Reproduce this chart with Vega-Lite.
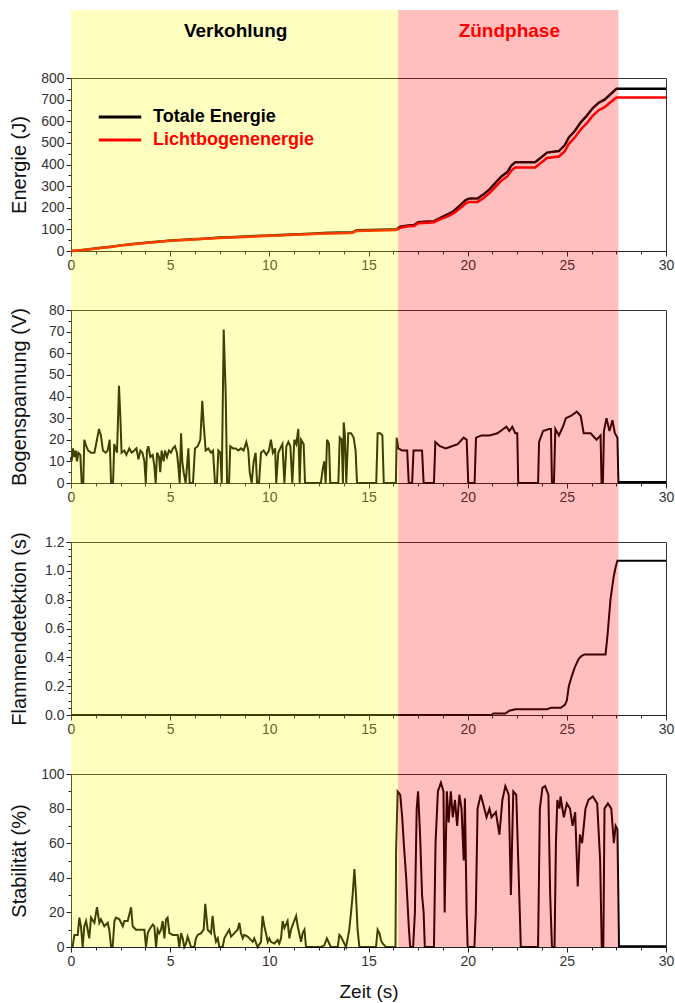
{
  "$schema": "https://vega.github.io/schema/vega-lite/v6.json",
  "background": "white",
  "padding": {"left": 8, "top": 9, "right": 4, "bottom": 2},
  "spacing": 59,
  "bounds": "flush",
  "config": {
    "font": "Liberation Sans",
    "view": {"stroke": "#333", "strokeWidth": 1},
    "axis": {"labelFont": "Liberation Sans", "labelFontSize": 14, "labelColor": "#333", "titleFont": "Liberation Sans", "titleFontSize": 20, "titleFontWeight": "normal", "titleColor": "#111", "domainColor": "#222", "tickColor": "#222", "grid": false, "labelPadding": 2, "tickSize": 5, "labelOverlap": false, "labelFlush": false}
  },
  "datasets": {
    "phases": [
      {"phase": "Verkohlung", "start": 0, "end": 16.5},
      {"phase": "Zündphase", "start": 16.5, "end": 27.6}
    ],
    "energie": [
      {"t":0,"Serie":"Totale Energie","E":0},{"t":0.5,"Serie":"Totale Energie","E":4},{"t":1,"Serie":"Totale Energie","E":9},{"t":1.5,"Serie":"Totale Energie","E":15},{"t":2,"Serie":"Totale Energie","E":20},{"t":2.5,"Serie":"Totale Energie","E":26},{"t":3,"Serie":"Totale Energie","E":31},{"t":3.5,"Serie":"Totale Energie","E":36},{"t":4,"Serie":"Totale Energie","E":40},{"t":4.5,"Serie":"Totale Energie","E":44},{"t":5,"Serie":"Totale Energie","E":48},{"t":5.5,"Serie":"Totale Energie","E":51},{"t":6,"Serie":"Totale Energie","E":54},{"t":6.5,"Serie":"Totale Energie","E":56},{"t":7,"Serie":"Totale Energie","E":59},{"t":7.5,"Serie":"Totale Energie","E":62},{"t":8,"Serie":"Totale Energie","E":64},{"t":8.5,"Serie":"Totale Energie","E":66},{"t":9,"Serie":"Totale Energie","E":68},{"t":9.5,"Serie":"Totale Energie","E":70},{"t":10,"Serie":"Totale Energie","E":72},{"t":10.5,"Serie":"Totale Energie","E":74},{"t":11,"Serie":"Totale Energie","E":76},{"t":11.5,"Serie":"Totale Energie","E":78},{"t":12,"Serie":"Totale Energie","E":80},{"t":12.5,"Serie":"Totale Energie","E":82},{"t":13,"Serie":"Totale Energie","E":84},{"t":13.5,"Serie":"Totale Energie","E":85},{"t":14,"Serie":"Totale Energie","E":86},{"t":14.2,"Serie":"Totale Energie","E":87},{"t":14.4,"Serie":"Totale Energie","E":96},{"t":15,"Serie":"Totale Energie","E":97},{"t":15.5,"Serie":"Totale Energie","E":98},{"t":16,"Serie":"Totale Energie","E":99},{"t":16.4,"Serie":"Totale Energie","E":100},{"t":16.6,"Serie":"Totale Energie","E":112},{"t":17,"Serie":"Totale Energie","E":118},{"t":17.3,"Serie":"Totale Energie","E":120},{"t":17.5,"Serie":"Totale Energie","E":133},{"t":18,"Serie":"Totale Energie","E":136},{"t":18.3,"Serie":"Totale Energie","E":138},{"t":18.6,"Serie":"Totale Energie","E":152},{"t":19,"Serie":"Totale Energie","E":170},{"t":19.3,"Serie":"Totale Energie","E":185},{"t":19.6,"Serie":"Totale Energie","E":210},{"t":19.9,"Serie":"Totale Energie","E":235},{"t":20.1,"Serie":"Totale Energie","E":243},{"t":20.5,"Serie":"Totale Energie","E":243},{"t":20.8,"Serie":"Totale Energie","E":262},{"t":21.1,"Serie":"Totale Energie","E":285},{"t":21.4,"Serie":"Totale Energie","E":315},{"t":21.7,"Serie":"Totale Energie","E":345},{"t":22,"Serie":"Totale Energie","E":365},{"t":22.2,"Serie":"Totale Energie","E":395},{"t":22.4,"Serie":"Totale Energie","E":410},{"t":23.4,"Serie":"Totale Energie","E":410},{"t":23.7,"Serie":"Totale Energie","E":432},{"t":24,"Serie":"Totale Energie","E":455},{"t":24.6,"Serie":"Totale Energie","E":462},{"t":24.9,"Serie":"Totale Energie","E":490},{"t":25.1,"Serie":"Totale Energie","E":525},{"t":25.4,"Serie":"Totale Energie","E":555},{"t":25.7,"Serie":"Totale Energie","E":595},{"t":26,"Serie":"Totale Energie","E":625},{"t":26.3,"Serie":"Totale Energie","E":660},{"t":26.6,"Serie":"Totale Energie","E":685},{"t":26.9,"Serie":"Totale Energie","E":700},{"t":27.2,"Serie":"Totale Energie","E":725},{"t":27.5,"Serie":"Totale Energie","E":750},{"t":30,"Serie":"Totale Energie","E":750},
      {"t":0,"Serie":"Lichtbogenenergie","E":0},{"t":0.5,"Serie":"Lichtbogenenergie","E":3},{"t":1,"Serie":"Lichtbogenenergie","E":8},{"t":1.5,"Serie":"Lichtbogenenergie","E":14},{"t":2,"Serie":"Lichtbogenenergie","E":19},{"t":2.5,"Serie":"Lichtbogenenergie","E":25},{"t":3,"Serie":"Lichtbogenenergie","E":30},{"t":3.5,"Serie":"Lichtbogenenergie","E":35},{"t":4,"Serie":"Lichtbogenenergie","E":39},{"t":4.5,"Serie":"Lichtbogenenergie","E":43},{"t":5,"Serie":"Lichtbogenenergie","E":47},{"t":5.5,"Serie":"Lichtbogenenergie","E":50},{"t":6,"Serie":"Lichtbogenenergie","E":52},{"t":6.5,"Serie":"Lichtbogenenergie","E":55},{"t":7,"Serie":"Lichtbogenenergie","E":58},{"t":7.5,"Serie":"Lichtbogenenergie","E":60},{"t":8,"Serie":"Lichtbogenenergie","E":62},{"t":8.5,"Serie":"Lichtbogenenergie","E":64},{"t":9,"Serie":"Lichtbogenenergie","E":66},{"t":9.5,"Serie":"Lichtbogenenergie","E":68},{"t":10,"Serie":"Lichtbogenenergie","E":70},{"t":10.5,"Serie":"Lichtbogenenergie","E":72},{"t":11,"Serie":"Lichtbogenenergie","E":74},{"t":11.5,"Serie":"Lichtbogenenergie","E":76},{"t":12,"Serie":"Lichtbogenenergie","E":78},{"t":12.5,"Serie":"Lichtbogenenergie","E":80},{"t":13,"Serie":"Lichtbogenenergie","E":81},{"t":13.5,"Serie":"Lichtbogenenergie","E":82},{"t":14,"Serie":"Lichtbogenenergie","E":83},{"t":14.2,"Serie":"Lichtbogenenergie","E":84},{"t":14.4,"Serie":"Lichtbogenenergie","E":93},{"t":15,"Serie":"Lichtbogenenergie","E":94},{"t":15.5,"Serie":"Lichtbogenenergie","E":95},{"t":16,"Serie":"Lichtbogenenergie","E":96},{"t":16.4,"Serie":"Lichtbogenenergie","E":97},{"t":16.6,"Serie":"Lichtbogenenergie","E":108},{"t":17,"Serie":"Lichtbogenenergie","E":114},{"t":17.3,"Serie":"Lichtbogenenergie","E":116},{"t":17.5,"Serie":"Lichtbogenenergie","E":128},{"t":18,"Serie":"Lichtbogenenergie","E":131},{"t":18.3,"Serie":"Lichtbogenenergie","E":133},{"t":18.6,"Serie":"Lichtbogenenergie","E":146},{"t":19,"Serie":"Lichtbogenenergie","E":160},{"t":19.3,"Serie":"Lichtbogenenergie","E":175},{"t":19.6,"Serie":"Lichtbogenenergie","E":197},{"t":19.9,"Serie":"Lichtbogenenergie","E":220},{"t":20.1,"Serie":"Lichtbogenenergie","E":227},{"t":20.5,"Serie":"Lichtbogenenergie","E":227},{"t":20.8,"Serie":"Lichtbogenenergie","E":245},{"t":21.1,"Serie":"Lichtbogenenergie","E":268},{"t":21.4,"Serie":"Lichtbogenenergie","E":297},{"t":21.7,"Serie":"Lichtbogenenergie","E":325},{"t":22,"Serie":"Lichtbogenenergie","E":345},{"t":22.2,"Serie":"Lichtbogenenergie","E":372},{"t":22.4,"Serie":"Lichtbogenenergie","E":386},{"t":23.4,"Serie":"Lichtbogenenergie","E":386},{"t":23.7,"Serie":"Lichtbogenenergie","E":408},{"t":24,"Serie":"Lichtbogenenergie","E":430},{"t":24.6,"Serie":"Lichtbogenenergie","E":437},{"t":24.9,"Serie":"Lichtbogenenergie","E":462},{"t":25.1,"Serie":"Lichtbogenenergie","E":495},{"t":25.4,"Serie":"Lichtbogenenergie","E":525},{"t":25.7,"Serie":"Lichtbogenenergie","E":562},{"t":26,"Serie":"Lichtbogenenergie","E":590},{"t":26.3,"Serie":"Lichtbogenenergie","E":625},{"t":26.6,"Serie":"Lichtbogenenergie","E":650},{"t":26.9,"Serie":"Lichtbogenenergie","E":665},{"t":27.2,"Serie":"Lichtbogenenergie","E":688},{"t":27.5,"Serie":"Lichtbogenenergie","E":710},{"t":30,"Serie":"Lichtbogenenergie","E":710}
    ],
    "spannung": [
      {"t":0,"U":12},{"t":0.03,"U":10},{"t":0.1,"U":16},{"t":0.17,"U":12},{"t":0.24,"U":15},{"t":0.3,"U":10},{"t":0.37,"U":14},{"t":0.47,"U":13},{"t":0.54,"U":0},{"t":0.62,"U":0},{"t":0.67,"U":20},{"t":0.77,"U":17},{"t":0.87,"U":15},{"t":1.01,"U":14},{"t":1.18,"U":14},{"t":1.31,"U":20},{"t":1.41,"U":25},{"t":1.51,"U":22},{"t":1.61,"U":15},{"t":1.75,"U":14},{"t":1.85,"U":15},{"t":1.95,"U":20},{"t":2.02,"U":0},{"t":2.12,"U":0},{"t":2.18,"U":18},{"t":2.32,"U":14},{"t":2.42,"U":45},{"t":2.49,"U":30},{"t":2.55,"U":14},{"t":2.69,"U":15},{"t":2.79,"U":13},{"t":2.94,"U":16},{"t":3.06,"U":14},{"t":3.19,"U":15},{"t":3.3,"U":16},{"t":3.4,"U":11},{"t":3.5,"U":15},{"t":3.6,"U":14},{"t":3.7,"U":10},{"t":3.77,"U":0},{"t":3.83,"U":15},{"t":3.9,"U":17},{"t":4.0,"U":12},{"t":4.12,"U":13},{"t":4.2,"U":8},{"t":4.27,"U":0},{"t":4.34,"U":14},{"t":4.44,"U":12},{"t":4.5,"U":5},{"t":4.57,"U":15},{"t":4.67,"U":10},{"t":4.74,"U":15},{"t":4.84,"U":12},{"t":4.94,"U":15},{"t":5.04,"U":14},{"t":5.14,"U":16},{"t":5.24,"U":17},{"t":5.34,"U":14},{"t":5.41,"U":8},{"t":5.48,"U":0},{"t":5.55,"U":23},{"t":5.61,"U":10},{"t":5.68,"U":5},{"t":5.78,"U":0},{"t":5.92,"U":16},{"t":5.98,"U":0},{"t":6.15,"U":0},{"t":6.25,"U":16},{"t":6.39,"U":17},{"t":6.52,"U":20},{"t":6.62,"U":38},{"t":6.69,"U":27},{"t":6.79,"U":15},{"t":6.92,"U":16},{"t":7.06,"U":14},{"t":7.16,"U":15},{"t":7.26,"U":0},{"t":7.36,"U":0},{"t":7.43,"U":15},{"t":7.53,"U":14},{"t":7.6,"U":0},{"t":7.7,"U":71},{"t":7.8,"U":41},{"t":7.87,"U":0},{"t":7.97,"U":0},{"t":8.03,"U":17},{"t":8.17,"U":16},{"t":8.3,"U":16},{"t":8.44,"U":15},{"t":8.57,"U":16},{"t":8.7,"U":15},{"t":8.84,"U":19},{"t":8.94,"U":15},{"t":9.01,"U":5},{"t":9.11,"U":0},{"t":9.21,"U":10},{"t":9.31,"U":14},{"t":9.38,"U":0},{"t":9.48,"U":0},{"t":9.58,"U":14},{"t":9.71,"U":15},{"t":9.85,"U":13},{"t":9.98,"U":15},{"t":10.08,"U":20},{"t":10.18,"U":14},{"t":10.29,"U":16},{"t":10.35,"U":0},{"t":10.45,"U":14},{"t":10.55,"U":16},{"t":10.66,"U":18},{"t":10.76,"U":0},{"t":10.86,"U":17},{"t":10.96,"U":19},{"t":11.06,"U":17},{"t":11.16,"U":0},{"t":11.26,"U":20},{"t":11.36,"U":18},{"t":11.46,"U":25},{"t":11.53,"U":0},{"t":11.6,"U":20},{"t":11.73,"U":18},{"t":11.8,"U":0},{"t":12.6,"U":0},{"t":12.7,"U":7},{"t":12.77,"U":10},{"t":12.84,"U":0},{"t":12.91,"U":20},{"t":13.01,"U":18},{"t":13.07,"U":0},{"t":13.48,"U":0},{"t":13.55,"U":21},{"t":13.65,"U":20},{"t":13.71,"U":0},{"t":13.75,"U":28},{"t":13.81,"U":22},{"t":13.88,"U":0},{"t":13.98,"U":23},{"t":14.12,"U":23},{"t":14.25,"U":21},{"t":14.35,"U":15},{"t":14.42,"U":0},{"t":15.39,"U":0},{"t":15.46,"U":23},{"t":15.59,"U":23},{"t":15.7,"U":22},{"t":15.77,"U":0},{"t":16.38,"U":0},{"t":16.42,"U":21},{"t":16.5,"U":16},{"t":16.7,"U":15},{"t":16.95,"U":15},{"t":17.03,"U":0},{"t":17.2,"U":0},{"t":17.27,"U":15},{"t":17.7,"U":15},{"t":17.78,"U":0},{"t":18.3,"U":0},{"t":18.37,"U":19},{"t":18.6,"U":17},{"t":18.9,"U":16},{"t":19.2,"U":17},{"t":19.5,"U":18},{"t":19.8,"U":21},{"t":19.95,"U":20},{"t":20.03,"U":0},{"t":20.35,"U":0},{"t":20.42,"U":21},{"t":20.7,"U":22},{"t":21.1,"U":22},{"t":21.5,"U":23},{"t":21.8,"U":25},{"t":21.95,"U":26},{"t":22.1,"U":24},{"t":22.25,"U":26},{"t":22.4,"U":23},{"t":22.5,"U":23},{"t":22.55,"U":0},{"t":23.55,"U":0},{"t":23.6,"U":19},{"t":23.8,"U":24},{"t":24.1,"U":25},{"t":24.2,"U":25},{"t":24.25,"U":0},{"t":24.35,"U":0},{"t":24.42,"U":25},{"t":24.6,"U":22},{"t":24.8,"U":26},{"t":24.95,"U":30},{"t":25.2,"U":31},{"t":25.5,"U":33},{"t":25.7,"U":31},{"t":25.85,"U":23},{"t":26.2,"U":23},{"t":26.5,"U":20},{"t":26.7,"U":22},{"t":26.75,"U":0},{"t":26.82,"U":0},{"t":26.87,"U":24},{"t":27.0,"U":30},{"t":27.15,"U":24},{"t":27.3,"U":29},{"t":27.42,"U":23},{"t":27.55,"U":21},{"t":27.6,"U":0.5},{"t":30,"U":0.5}
    ],
    "flamme": [
      {"t":0,"F":0},{"t":21.2,"F":0},{"t":21.3,"F":0.01},{"t":21.9,"F":0.01},{"t":22.1,"F":0.03},{"t":22.4,"F":0.04},{"t":24.0,"F":0.04},{"t":24.2,"F":0.05},{"t":24.7,"F":0.05},{"t":24.9,"F":0.07},{"t":25.0,"F":0.1},{"t":25.1,"F":0.2},{"t":25.25,"F":0.27},{"t":25.4,"F":0.33},{"t":25.6,"F":0.39},{"t":25.75,"F":0.41},{"t":25.9,"F":0.42},{"t":26.95,"F":0.42},{"t":27.05,"F":0.55},{"t":27.2,"F":0.8},{"t":27.35,"F":0.95},{"t":27.45,"F":1.02},{"t":27.55,"F":1.07},{"t":30,"F":1.07}
    ],
    "stabil": [
      {"t":0,"S":0},{"t":0.08,"S":0},{"t":0.17,"S":7},{"t":0.34,"S":7},{"t":0.42,"S":17},{"t":0.5,"S":12},{"t":0.59,"S":0},{"t":0.67,"S":12},{"t":0.76,"S":15},{"t":0.84,"S":10},{"t":0.92,"S":5},{"t":1.01,"S":17},{"t":1.18,"S":14},{"t":1.31,"S":23},{"t":1.43,"S":14},{"t":1.51,"S":16},{"t":1.68,"S":12},{"t":1.85,"S":14},{"t":1.93,"S":10},{"t":2.02,"S":0},{"t":2.1,"S":0},{"t":2.19,"S":15},{"t":2.27,"S":17},{"t":2.44,"S":16},{"t":2.61,"S":12},{"t":2.69,"S":15},{"t":2.86,"S":15},{"t":3.03,"S":23},{"t":3.11,"S":12},{"t":3.28,"S":10},{"t":3.53,"S":10},{"t":3.7,"S":10},{"t":3.78,"S":0},{"t":3.87,"S":8},{"t":3.95,"S":10},{"t":4.12,"S":13},{"t":4.2,"S":12},{"t":4.29,"S":0},{"t":4.37,"S":10},{"t":4.45,"S":8},{"t":4.54,"S":10},{"t":4.62,"S":15},{"t":4.71,"S":5},{"t":4.79,"S":16},{"t":4.87,"S":17},{"t":4.96,"S":8},{"t":5.13,"S":7},{"t":5.38,"S":7},{"t":5.46,"S":0},{"t":5.55,"S":8},{"t":5.63,"S":5},{"t":5.71,"S":0},{"t":5.8,"S":2},{"t":5.88,"S":6},{"t":5.97,"S":3},{"t":6.05,"S":0},{"t":6.22,"S":0},{"t":6.3,"S":5},{"t":6.39,"S":7},{"t":6.56,"S":8},{"t":6.69,"S":10},{"t":6.77,"S":25},{"t":6.89,"S":10},{"t":7.06,"S":8},{"t":7.14,"S":18},{"t":7.23,"S":8},{"t":7.31,"S":3},{"t":7.4,"S":5},{"t":7.48,"S":0},{"t":7.65,"S":0},{"t":7.73,"S":5},{"t":7.82,"S":7},{"t":7.98,"S":10},{"t":8.07,"S":6},{"t":8.24,"S":8},{"t":8.4,"S":10},{"t":8.49,"S":14},{"t":8.57,"S":8},{"t":8.66,"S":5},{"t":8.74,"S":7},{"t":8.91,"S":6},{"t":9.08,"S":4},{"t":9.16,"S":3},{"t":9.24,"S":5},{"t":9.41,"S":0},{"t":9.58,"S":3},{"t":9.66,"S":18},{"t":9.75,"S":12},{"t":9.83,"S":8},{"t":9.92,"S":3},{"t":10.0,"S":5},{"t":10.08,"S":3},{"t":10.25,"S":2},{"t":10.42,"S":4},{"t":10.5,"S":2},{"t":10.59,"S":5},{"t":10.67,"S":15},{"t":10.76,"S":11},{"t":10.92,"S":15},{"t":11.01,"S":5},{"t":11.09,"S":10},{"t":11.35,"S":18},{"t":11.43,"S":12},{"t":11.6,"S":3},{"t":11.68,"S":8},{"t":11.77,"S":10},{"t":11.85,"S":0},{"t":12.6,"S":0},{"t":12.77,"S":1},{"t":12.9,"S":5},{"t":13.02,"S":2},{"t":13.1,"S":0},{"t":13.45,"S":0},{"t":13.53,"S":7},{"t":13.61,"S":6},{"t":13.78,"S":2},{"t":13.87,"S":0},{"t":14.03,"S":10},{"t":14.12,"S":20},{"t":14.2,"S":30},{"t":14.29,"S":45},{"t":14.37,"S":30},{"t":14.45,"S":10},{"t":14.54,"S":0},{"t":15.38,"S":0},{"t":15.46,"S":10},{"t":15.55,"S":8},{"t":15.63,"S":4},{"t":15.71,"S":2},{"t":15.88,"S":0},{"t":16.36,"S":0},
      {"t":16.39,"S":55},{"t":16.47,"S":90},{"t":16.6,"S":88},{"t":16.7,"S":75},{"t":16.78,"S":60},{"t":16.9,"S":40},{"t":17.04,"S":10},{"t":17.1,"S":0},{"t":17.25,"S":0},{"t":17.34,"S":20},{"t":17.43,"S":80},{"t":17.5,"S":90},{"t":17.6,"S":65},{"t":17.7,"S":30},{"t":17.78,"S":20},{"t":17.84,"S":0},{"t":18.3,"S":0},{"t":18.38,"S":60},{"t":18.5,"S":90},{"t":18.65,"S":95},{"t":18.78,"S":90},{"t":18.84,"S":20},{"t":18.9,"S":60},{"t":18.95,"S":90},{"t":19.04,"S":72},{"t":19.15,"S":90},{"t":19.25,"S":75},{"t":19.36,"S":85},{"t":19.47,"S":70},{"t":19.58,"S":88},{"t":19.69,"S":80},{"t":19.8,"S":50},{"t":19.86,"S":86},{"t":19.95,"S":20},{"t":20.0,"S":0},{"t":20.34,"S":0},{"t":20.41,"S":20},{"t":20.5,"S":80},{"t":20.66,"S":88},{"t":20.8,"S":82},{"t":20.95,"S":75},{"t":21.1,"S":80},{"t":21.2,"S":75},{"t":21.42,"S":78},{"t":21.6,"S":65},{"t":21.75,"S":85},{"t":21.9,"S":93},{"t":22.07,"S":88},{"t":22.18,"S":30},{"t":22.3,"S":90},{"t":22.45,"S":88},{"t":22.55,"S":50},{"t":22.68,"S":0},{"t":23.55,"S":0},{"t":23.64,"S":80},{"t":23.77,"S":92},{"t":23.9,"S":93},{"t":24.07,"S":88},{"t":24.16,"S":30},{"t":24.25,"S":0},{"t":24.38,"S":0},{"t":24.45,"S":60},{"t":24.52,"S":85},{"t":24.63,"S":80},{"t":24.68,"S":87},{"t":24.85,"S":75},{"t":25.0,"S":83},{"t":25.16,"S":80},{"t":25.29,"S":70},{"t":25.42,"S":78},{"t":25.55,"S":35},{"t":25.66,"S":65},{"t":25.77,"S":60},{"t":25.94,"S":80},{"t":26.09,"S":85},{"t":26.31,"S":87},{"t":26.53,"S":83},{"t":26.68,"S":50},{"t":26.76,"S":0},{"t":26.84,"S":0},{"t":26.9,"S":80},{"t":27.07,"S":83},{"t":27.24,"S":80},{"t":27.37,"S":60},{"t":27.46,"S":70},{"t":27.55,"S":68},{"t":27.59,"S":35},{"t":27.63,"S":0.5},{"t":30,"S":0.5}
    ]
  },
  "vconcat": [
    {
      "width": 595, "height": 173,
      "resolve": {"axis": {"x": "independent", "y": "independent"}},
      "layer": [
        {
          "data": {"name": "energie"},
          "transform": [{"filter": "datum.Serie === 'Totale Energie'"}],
          "mark": {"type": "line", "strokeWidth": 2.5},
          "encoding": {
            "x": {"field": "t", "type": "quantitative", "scale": {"domain": [0, 30], "nice": false},
              "axis": {"orient": "bottom", "title": null, "values": [0,5,10,15,20,25,30]}},
            "y": {"field": "E", "type": "quantitative", "scale": {"domain": [0, 800], "nice": false},
              "axis": {"orient": "left", "title": "Energie (J)", "titleX": -42, "values": [0,100,200,300,400,500,600,700,800]}},
            "color": {"field": "Serie", "type": "nominal",
              "scale": {"domain": ["Totale Energie", "Lichtbogenenergie"], "range": ["#000000", "#ff0000"]},
              "legend": {"title": null, "orient": "none", "legendX": 40, "legendY": 30, "symbolType": "M-3,0H3", "symbolSize": 200, "symbolStrokeWidth": 3, "labelFont": "Liberation Sans", "labelFontSize": 18, "labelFontWeight": "bold", "labelOffset": 24, "labelLimit": 400, "rowPadding": 5, "padding": 0,
                "encode": {"labels": {"update": {"fill": {"signal": "datum.label === 'Lichtbogenenergie' ? '#ff0000' : '#000000'"}}}}}}
          }
        },
        {
          "data": {"name": "energie"},
          "transform": [{"filter": "datum.Serie === 'Lichtbogenenergie'"}],
          "mark": {"type": "line", "strokeWidth": 2.5},
          "encoding": {
            "x": {"field": "t", "type": "quantitative", "axis": null},
            "y": {"field": "E", "type": "quantitative", "axis": null},
            "color": {"field": "Serie", "type": "nominal"}
          }
        },
        {
          "data": {"name": "phases"},
          "mark": {"type": "rect", "opacity": 0.25},
          "encoding": {
            "x": {"field": "start", "type": "quantitative",
              "axis": {"orient": "bottom", "title": null, "labels": false, "domain": false, "tickSize": 3, "values": [1.25,2.5,3.75,6.25,7.5,8.75,11.25,12.5,13.75,16.25,17.5,18.75,21.25,22.5,23.75,26.25,27.5,28.75]}},
            "x2": {"field": "end"},
            "y": {"datum": -272.8,
              "axis": {"orient": "left", "title": null, "labels": false, "domain": false, "tickSize": 3, "values": [50,150,250,350,450,550,650,750]}},
            "y2": {"datum": 1114.5},
            "fill": {"field": "phase", "type": "nominal", "scale": {"domain": ["Verkohlung", "Zündphase"], "range": ["#ffff00", "#ff0000"]}, "legend": null}
          }
        },
        {
          "data": {"name": "phases"},
          "transform": [{"filter": "datum.phase === 'Verkohlung'"}],
          "mark": {"type": "text", "fontSize": 19, "fontWeight": "bold", "color": "#000000", "baseline": "middle"},
          "encoding": {"x": {"datum": 8.3, "axis": null}, "y": {"datum": 1017, "axis": null}, "text": {"field": "phase"}}
        },
        {
          "data": {"name": "phases"},
          "transform": [{"filter": "datum.phase === 'Zündphase'"}],
          "mark": {"type": "text", "fontSize": 19, "fontWeight": "bold", "color": "#ff0000", "baseline": "middle"},
          "encoding": {"x": {"datum": 22.1, "axis": null}, "y": {"datum": 1017, "axis": null}, "text": {"field": "phase"}}
        }
      ]
    },
    {
      "width": 595, "height": 173,
      "resolve": {"axis": {"x": "independent", "y": "independent"}},
      "layer": [
        {
          "data": {"name": "spannung"},
          "mark": {"type": "line", "color": "#000000", "strokeWidth": 2},
          "encoding": {
            "x": {"field": "t", "type": "quantitative", "scale": {"domain": [0, 30], "nice": false},
              "axis": {"orient": "bottom", "title": null, "values": [0,5,10,15,20,25,30]}},
            "y": {"field": "U", "type": "quantitative", "scale": {"domain": [0, 80], "nice": false},
              "axis": {"orient": "left", "title": "Bogenspannung (V)", "titleX": -42, "values": [0,10,20,30,40,50,60,70,80]}}
          }
        },
        {
          "data": {"name": "phases"},
          "mark": {"type": "rect", "opacity": 0.25},
          "encoding": {
            "x": {"field": "start", "type": "quantitative",
              "axis": {"orient": "bottom", "title": null, "labels": false, "domain": false, "tickSize": 3, "values": [1.25,2.5,3.75,6.25,7.5,8.75,11.25,12.5,13.75,16.25,17.5,18.75,21.25,22.5,23.75,26.25,27.5,28.75]}},
            "x2": {"field": "end"},
            "y": {"datum": -27.28,
              "axis": {"orient": "left", "title": null, "labels": false, "domain": false, "tickSize": 3, "values": [5,15,25,35,45,55,65,75]}},
            "y2": {"datum": 80},
            "fill": {"field": "phase", "type": "nominal", "scale": {"domain": ["Verkohlung", "Zündphase"], "range": ["#ffff00", "#ff0000"]}, "legend": null}
          }
        }
      ]
    },
    {
      "width": 595, "height": 173,
      "resolve": {"axis": {"x": "independent", "y": "independent"}},
      "layer": [
        {
          "data": {"name": "flamme"},
          "mark": {"type": "line", "color": "#000000", "strokeWidth": 2},
          "encoding": {
            "x": {"field": "t", "type": "quantitative", "scale": {"domain": [0, 30], "nice": false},
              "axis": {"orient": "bottom", "title": null, "values": [0,5,10,15,20,25,30]}},
            "y": {"field": "F", "type": "quantitative", "scale": {"domain": [0, 1.2], "nice": false},
              "axis": {"orient": "left", "title": "Flammendetektion (s)", "titleX": -42, "format": ".1f", "values": [0,0.2,0.4,0.6,0.8,1.0,1.2]}}
          }
        },
        {
          "data": {"name": "phases"},
          "mark": {"type": "rect", "opacity": 0.25},
          "encoding": {
            "x": {"field": "start", "type": "quantitative",
              "axis": {"orient": "bottom", "title": null, "labels": false, "domain": false, "tickSize": 3, "values": [1.25,2.5,3.75,6.25,7.5,8.75,11.25,12.5,13.75,16.25,17.5,18.75,21.25,22.5,23.75,26.25,27.5,28.75]}},
            "x2": {"field": "end"},
            "y": {"datum": -0.4092,
              "axis": {"orient": "left", "title": null, "labels": false, "domain": false, "tickSize": 3, "values": [0.05,0.1,0.15,0.25,0.3,0.35,0.45,0.5,0.55,0.65,0.7,0.75,0.85,0.9,0.95,1.05,1.1,1.15]}},
            "y2": {"datum": 1.2},
            "fill": {"field": "phase", "type": "nominal", "scale": {"domain": ["Verkohlung", "Zündphase"], "range": ["#ffff00", "#ff0000"]}, "legend": null}
          }
        }
      ]
    },
    {
      "width": 595, "height": 173,
      "resolve": {"axis": {"x": "independent", "y": "independent"}},
      "layer": [
        {
          "data": {"name": "stabil"},
          "mark": {"type": "line", "color": "#000000", "strokeWidth": 2},
          "encoding": {
            "x": {"field": "t", "type": "quantitative", "scale": {"domain": [0, 30], "nice": false},
              "axis": {"orient": "bottom", "title": "Zeit (s)", "titleFontSize": 19, "titlePadding": 14, "values": [0,5,10,15,20,25,30]}},
            "y": {"field": "S", "type": "quantitative", "scale": {"domain": [0, 100], "nice": false},
              "axis": {"orient": "left", "title": "Stabilität (%)", "titleX": -42, "values": [0,20,40,60,80,100]}}
          }
        },
        {
          "data": {"name": "phases"},
          "mark": {"type": "rect", "opacity": 0.25},
          "encoding": {
            "x": {"field": "start", "type": "quantitative",
              "axis": {"orient": "bottom", "title": null, "labels": false, "domain": false, "tickSize": 3, "values": [1.25,2.5,3.75,6.25,7.5,8.75,11.25,12.5,13.75,16.25,17.5,18.75,21.25,22.5,23.75,26.25,27.5,28.75]}},
            "x2": {"field": "end"},
            "y": {"datum": 0,
              "axis": {"orient": "left", "title": null, "labels": false, "domain": false, "tickSize": 3, "values": [10,30,50,70,90]}},
            "y2": {"datum": 100},
            "fill": {"field": "phase", "type": "nominal", "scale": {"domain": ["Verkohlung", "Zündphase"], "range": ["#ffff00", "#ff0000"]}, "legend": null}
          }
        }
      ]
    }
  ]
}
